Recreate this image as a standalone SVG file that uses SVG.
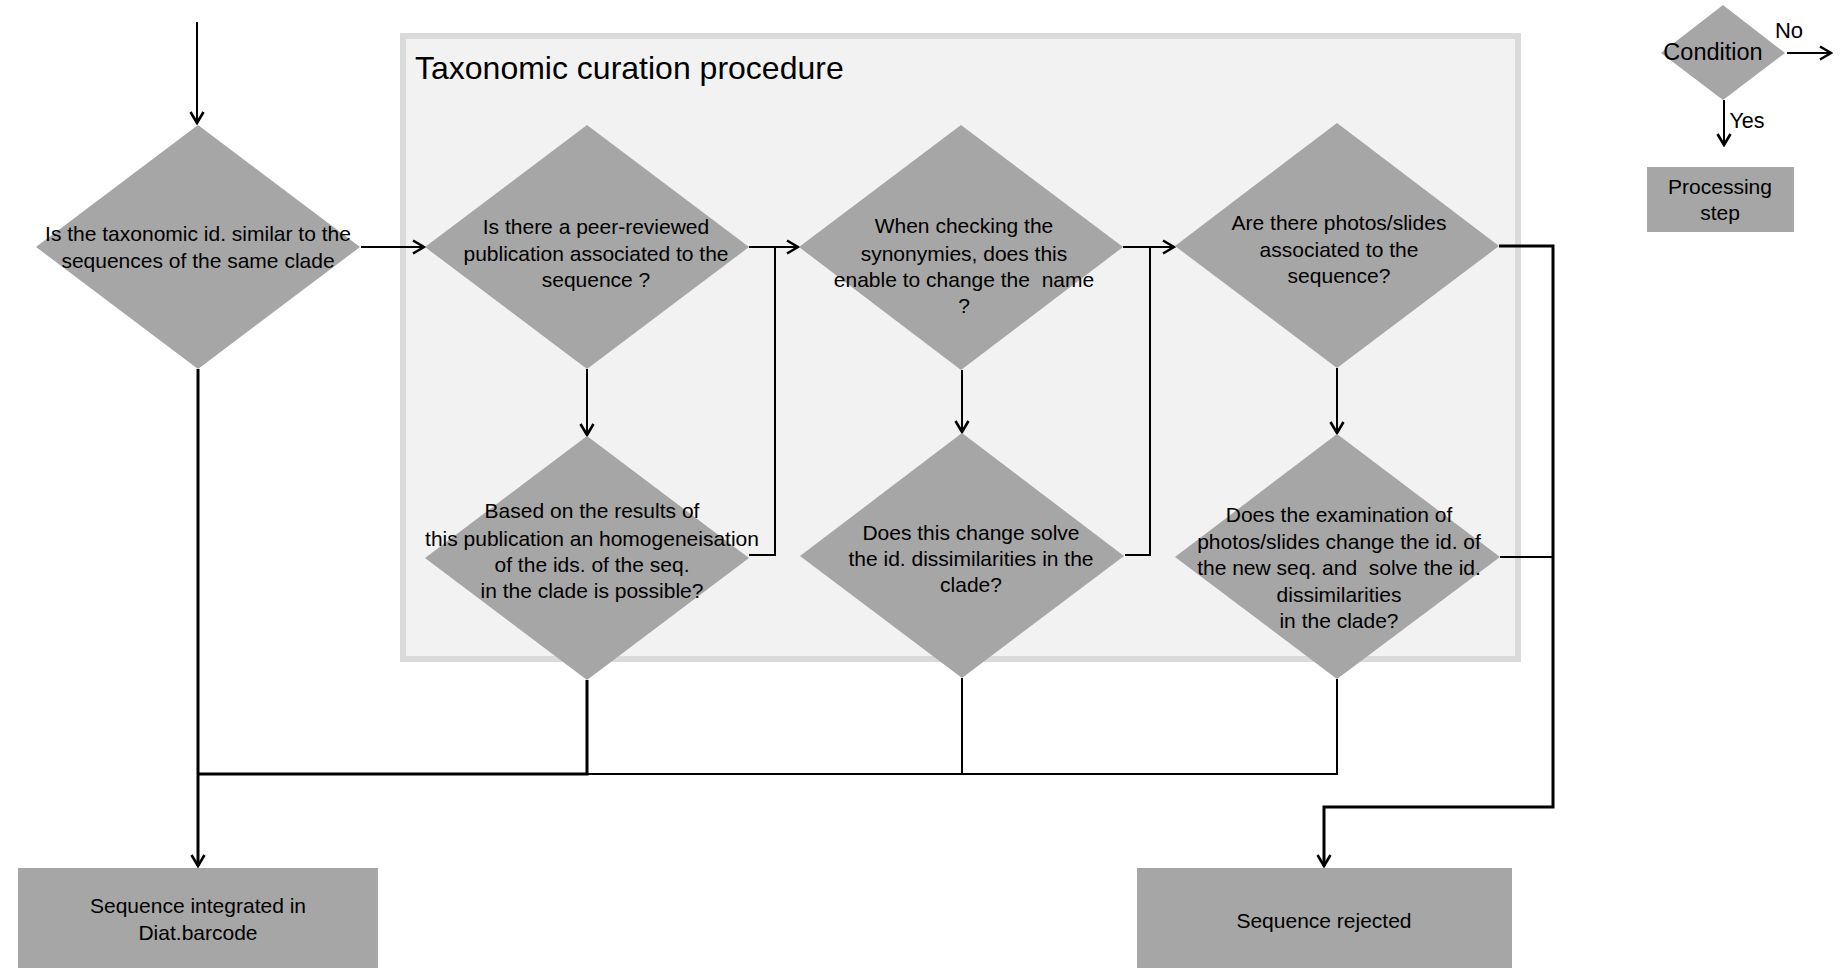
<svg xmlns="http://www.w3.org/2000/svg" width="1845" height="973" viewBox="0 0 1845 973">
<style>
.dia{fill:#a6a6a6;stroke:none}
.box{fill:#a6a6a6;stroke:none}
.t{font-family:"Liberation Sans",Arial,sans-serif;font-size:21px;fill:#000;text-anchor:middle}
.c{fill:none;stroke:#000;stroke-width:2}
.c3{fill:none;stroke:#000;stroke-width:3}
.a{marker-end:url(#arr)}
</style>
<defs>
<marker id="arr" markerUnits="userSpaceOnUse" viewBox="0 0 14 16" markerWidth="14" markerHeight="16" refX="12.5" refY="8" orient="auto">
<path d="M1.5,1.5 L12.5,8 L1.5,14.5" fill="none" stroke="#000" stroke-width="2.6"/>
</marker>
</defs>
<rect width="1845" height="973" fill="#fff"/>
<g id="container">
<rect x="403" y="36" width="1115" height="623" fill="#f2f2f2" stroke="#dadada" stroke-width="6"/>
<text x="415" y="79" style="font-family:'Liberation Sans',Arial,sans-serif;font-size:32px;fill:#000">Taxonomic curation procedure</text>
</g>
<g id="connectors">
<path class="c a" d="M197,22 V123"/>
<path class="c a" d="M361,247 H424"/>
<path class="c a" d="M749,247 H798"/>
<path class="c" d="M749,555 H775 V247"/>
<path class="c a" d="M587,369 V435"/>
<path class="c a" d="M1123,247 H1174"/>
<path class="c" d="M1125,555 H1150 V247"/>
<path class="c a" d="M962,370 V432"/>
<path class="c a" d="M1337,368 V433"/>
<path class="c3 a" d="M1499,246 H1553 V807 H1324 V866"/>
<path class="c" d="M1500,557 H1553"/>
<path class="c3 a" d="M198,369 V866"/>
<path class="c3" d="M587,680 V774 H198"/>
<path class="c" d="M962,678 V774 H587"/>
<path class="c" d="M1337,679 V774 H962"/>
</g>
<g id="d1">
<polygon class="dia" points="198,125 360,247 198,369 36,247"/>
<text class="t"><tspan x="198" y="240.7">Is the taxonomic id. similar to the</tspan><tspan x="198" y="267.7">sequences of the same clade</tspan></text>
</g>
<g id="d2">
<polygon class="dia" points="587,125 749,247 587,369 425,247"/>
<text class="t"><tspan x="596" y="234">Is there a peer-reviewed</tspan><tspan x="596" y="260.5">publication associated to the</tspan><tspan x="596" y="287">sequence ?</tspan></text>
</g>
<g id="d3">
<polygon class="dia" points="961,125 1123,247 961,370 799,247"/>
<text class="t" xml:space="preserve"><tspan x="964" y="233.3">When checking the</tspan><tspan x="964" y="261">synonymies, does this</tspan><tspan x="964" y="286.7">enable to change the  name</tspan><tspan x="964" y="313">?</tspan></text>
</g>
<g id="d4">
<polygon class="dia" points="587,436 749,558 587,680 425,558"/>
<text class="t"><tspan x="592" y="518.3">Based on the results of</tspan><tspan x="592" y="545.7">this publication an homogeneisation</tspan><tspan x="592" y="571.7">of the ids. of the seq.</tspan><tspan x="592" y="598.3">in the clade is possible?</tspan></text>
</g>
<g id="d5">
<polygon class="dia" points="962,433 1124,556 962,678 800,556"/>
<text class="t"><tspan x="971" y="540">Does this change solve</tspan><tspan x="971" y="565.7">the id. dissimilarities in the</tspan><tspan x="971" y="592">clade?</tspan></text>
</g>
<g id="d6">
<polygon class="dia" points="1337,123 1499,246 1337,368 1175,246"/>
<text class="t"><tspan x="1339" y="230">Are there photos/slides</tspan><tspan x="1339" y="256.7">associated to the</tspan><tspan x="1339" y="283.3">sequence?</tspan></text>
</g>
<g id="d7">
<polygon class="dia" points="1337,434 1500,557 1337,679 1175,557"/>
<text class="t" xml:space="preserve"><tspan x="1339" y="521.7">Does the examination of</tspan><tspan x="1339" y="549">photos/slides change the id. of</tspan><tspan x="1339" y="575">the new seq. and  solve the id.</tspan><tspan x="1339" y="601.7">dissimilarities</tspan><tspan x="1339" y="628.3">in the clade?</tspan></text>
</g>
<g id="integrated">
<rect class="box" x="18" y="868" width="360" height="100"/>
<text class="t"><tspan x="198" y="913.3">Sequence integrated in</tspan><tspan x="198" y="940">Diat.barcode</tspan></text>
</g>
<g id="rejected">
<rect class="box" x="1137" y="868" width="375" height="100"/>
<text class="t" x="1324" y="927.7">Sequence rejected</text>
</g>
<g id="legend">
<polygon class="dia" points="1723,5 1785,53 1723,100 1661,53"/>
<text class="t" x="1713" y="60" style="font-size:23.5px">Condition</text>
<path class="c a" d="M1787,53 H1831"/>
<text class="t" x="1789" y="38.3" style="font-size:22px">No</text>
<path class="c a" d="M1724,100 V145"/>
<text class="t" x="1747" y="128.3" style="font-size:21.5px">Yes</text>
<rect class="box" x="1647" y="167" width="147" height="65"/>
<text class="t"><tspan x="1720" y="194.3">Processing</tspan><tspan x="1720" y="220">step</tspan></text>
</g>
</svg>
